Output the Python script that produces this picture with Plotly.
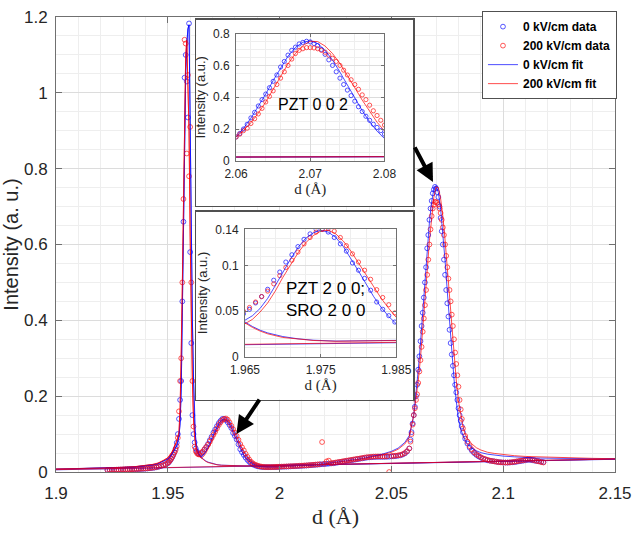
import plotly.graph_objects as go

# ---------------- data ----------------
# measured d-spacing grid (Angstrom)
d_data = [
    1.923, 1.924, 1.925, 1.926, 1.927, 1.928, 1.929, 1.930, 1.931, 1.932, 1.933, 1.934, 1.935, 1.936,
    1.937, 1.938, 1.939, 1.940, 1.941, 1.942, 1.943, 1.944, 1.945, 1.946, 1.947, 1.948, 1.949,
    1.9500, 1.9505, 1.9510, 1.9515, 1.9520, 1.9525, 1.9530, 1.9535, 1.9540, 1.9545, 1.9550, 1.9555,
    1.9560, 1.9565, 1.9570, 1.9575, 1.9580, 1.9585, 1.9590, 1.9595, 1.9600, 1.9605, 1.9610, 1.9615,
    1.9620, 1.9625, 1.9630, 1.9635, 1.9640,
    1.9648, 1.9656, 1.9664, 1.9672, 1.9680, 1.9688, 1.9696, 1.9704, 1.9712, 1.9720, 1.9728, 1.9736,
    1.9744, 1.9752, 1.9760, 1.9768, 1.9776, 1.9784, 1.9792, 1.9800, 1.9808, 1.9816, 1.9824, 1.9832,
    1.9840, 1.9848, 1.9856, 1.9864, 1.9872, 1.9880, 1.9888, 1.9896, 1.9904, 1.9912, 1.9920, 1.9928,
    1.9936, 1.9944, 1.9952, 1.9960, 1.9968, 1.9976, 1.9984, 1.9992,
    2.000, 2.001, 2.002, 2.003, 2.004, 2.005, 2.006, 2.007, 2.008, 2.009, 2.010, 2.011, 2.012, 2.013,
    2.014, 2.015, 2.016, 2.017, 2.018, 2.019, 2.020, 2.021, 2.022, 2.023, 2.024, 2.025, 2.026, 2.027,
    2.028, 2.029, 2.030, 2.031, 2.032, 2.033, 2.034, 2.035, 2.036, 2.037, 2.038, 2.039, 2.040, 2.041,
    2.042, 2.043, 2.044, 2.045, 2.046, 2.047, 2.048, 2.049, 2.050, 2.051, 2.052, 2.053, 2.054, 2.055,
    2.056, 2.057, 2.058,
    2.0585, 2.0590, 2.0595, 2.0600, 2.0605, 2.0610, 2.0615, 2.0620, 2.0625, 2.0630, 2.0635, 2.0640,
    2.0645, 2.0650, 2.0655, 2.0660, 2.0665, 2.0670, 2.0675, 2.0680, 2.0685, 2.0690, 2.0695, 2.0700,
    2.0705, 2.0710, 2.0715, 2.0720, 2.0725, 2.0730, 2.0735, 2.0740, 2.0745, 2.0750, 2.0755, 2.0760,
    2.0765, 2.0770, 2.0775, 2.0780, 2.0785, 2.0790, 2.0795, 2.0800, 2.0805, 2.0810, 2.0815,
    2.082, 2.083, 2.084, 2.085, 2.086, 2.087, 2.088, 2.089, 2.090, 2.091, 2.092, 2.093, 2.094, 2.095,
    2.096, 2.097, 2.098, 2.099, 2.100, 2.101, 2.102, 2.103, 2.104, 2.105, 2.106, 2.107, 2.108, 2.109,
    2.110, 2.111, 2.112, 2.113, 2.114, 2.115, 2.116, 2.117, 2.118,
]

data_0kV = [
    0.0050, 0.0050, 0.0052, 0.0054, 0.0055, 0.0057, 0.0058, 0.0060, 0.0062, 0.0064, 0.0066, 0.0068, 0.0070, 0.0073,
    0.0076, 0.0080, 0.0084, 0.0088, 0.0093, 0.0099, 0.0106, 0.0115, 0.0125, 0.0140, 0.0158, 0.0180, 0.0200,
    0.023, 0.026, 0.030, 0.034, 0.039, 0.045, 0.052, 0.062, 0.077, 0.100, 0.140, 0.190,
    0.240, 0.450, 0.660, 1.040, 1.100, 1.030, 0.935, 1.183, 0.580, 0.340, 0.150, 0.100,
    0.078, 0.062, 0.054, 0.050, 0.047,
    0.047, 0.052, 0.059, 0.066, 0.074, 0.084, 0.093, 0.104, 0.112, 0.121, 0.129, 0.135,
    0.140, 0.140, 0.137, 0.131, 0.124, 0.116, 0.103, 0.095, 0.086, 0.073, 0.060, 0.052,
    0.045, 0.038, 0.032, 0.027, 0.023, 0.020, 0.018, 0.016, 0.015, 0.014, 0.0135, 0.013,
    0.013, 0.0128, 0.0128, 0.0128, 0.013, 0.013, 0.013, 0.0132,
    0.0135, 0.0138, 0.0140, 0.0142, 0.0145, 0.0148, 0.0150, 0.0153, 0.0156, 0.0160, 0.0163, 0.0167, 0.0170, 0.0175,
    0.0180, 0.0185, 0.0190, 0.0195, 0.0200, 0.0205, 0.0210, 0.0215, 0.0220, 0.0225, 0.0230, 0.0240, 0.0250, 0.0260,
    0.0270, 0.0280, 0.0290, 0.0300, 0.0310, 0.0320, 0.0330, 0.0340, 0.0350, 0.0360, 0.0370, 0.0380, 0.0385, 0.0390,
    0.0395, 0.0398, 0.0400, 0.0400, 0.0400, 0.0400, 0.0402, 0.0405, 0.0410, 0.0415, 0.0420, 0.0430, 0.0440, 0.0460,
    0.0490, 0.0540, 0.0620,
    0.085, 0.105, 0.128, 0.150, 0.172, 0.200, 0.230, 0.270, 0.305, 0.345, 0.385, 0.420,
    0.460, 0.500, 0.540, 0.590, 0.625, 0.665, 0.695, 0.715, 0.735, 0.745, 0.752, 0.748,
    0.738, 0.725, 0.700, 0.670, 0.635, 0.600, 0.560, 0.520, 0.480, 0.445, 0.410, 0.375,
    0.340, 0.310, 0.280, 0.255, 0.230, 0.210, 0.190, 0.168, 0.150, 0.135, 0.120,
    0.105, 0.088, 0.075, 0.064, 0.056, 0.050, 0.045, 0.041, 0.038, 0.035, 0.033, 0.031, 0.030, 0.029,
    0.028, 0.027, 0.026, 0.0255, 0.025, 0.0248, 0.0248, 0.025, 0.0255, 0.026, 0.027, 0.028, 0.029, 0.030,
    0.031, 0.032, 0.032, 0.031, 0.030, 0.029, 0.028, 0.027, 0.026,
]

data_200kV = [
    0.0055, 0.0056, 0.0057, 0.0059, 0.0060, 0.0062, 0.0063, 0.0065, 0.0067, 0.0069, 0.0071, 0.0073, 0.0075, 0.0078,
    0.0081, 0.0085, 0.0089, 0.0093, 0.0098, 0.0104, 0.0111, 0.0120, 0.0130, 0.0145, 0.0163, 0.0185, 0.0210,
    0.024, 0.027, 0.031, 0.035, 0.040, 0.046, 0.052, 0.058, 0.068, 0.090, 0.160, 0.240,
    0.300, 0.500, 0.720, 1.140, 1.130, 0.840, 1.047, 0.780, 0.910, 0.500, 0.240, 0.120,
    0.067, 0.055, 0.050, 0.047, 0.046,
    0.050, 0.054, 0.060, 0.066, 0.072, 0.080, 0.089, 0.098, 0.106, 0.115, 0.124, 0.131,
    0.137, 0.140, 0.141, 0.138, 0.131, 0.122, 0.113, 0.104, 0.095, 0.085, 0.0736, 0.065,
    0.057, 0.048, 0.040, 0.033, 0.027, 0.023, 0.020, 0.018, 0.016, 0.015, 0.014, 0.0135,
    0.013, 0.013, 0.013, 0.013, 0.0132, 0.0133, 0.0135, 0.0137,
    0.0140, 0.0143, 0.0145, 0.0147, 0.0150, 0.0153, 0.0155, 0.0158, 0.0161, 0.0165, 0.0168, 0.0172, 0.0175, 0.0180,
    0.0185, 0.0190, 0.0195, 0.0200, 0.0205, 0.0790, 0.0215, 0.0280, 0.0300, 0.0230, 0.0240, 0.0250, 0.0260, 0.0270,
    0.0280, 0.0290, 0.0300, 0.0310, 0.0320, 0.0330, 0.0340, 0.0350, 0.0360, 0.0370, 0.0380, 0.0390, 0.0395, 0.0400,
    0.0405, 0.0408, 0.0410, 0.0410, 0.0410, 0.0410, 0.0412, 0.0000, 0.0420, 0.0425, 0.0430, 0.0440, 0.0450, 0.0470,
    0.0500, 0.0550, 0.0620,
    0.080, 0.100, 0.125, 0.150, 0.168, 0.190, 0.205, 0.235, 0.265, 0.295, 0.330, 0.370,
    0.405, 0.440, 0.480, 0.520, 0.560, 0.600, 0.640, 0.675, 0.695, 0.705, 0.712, 0.712,
    0.710, 0.705, 0.695, 0.683, 0.665, 0.645, 0.625, 0.600, 0.570, 0.540, 0.510, 0.480,
    0.450, 0.415, 0.385, 0.350, 0.315, 0.285, 0.255, 0.225, 0.190, 0.165, 0.140,
    0.115, 0.095, 0.080, 0.068, 0.059, 0.052, 0.047, 0.043, 0.039, 0.036, 0.034, 0.032, 0.030, 0.029,
    0.028, 0.027, 0.026, 0.0255, 0.025, 0.025, 0.025, 0.0255, 0.026, 0.027, 0.028, 0.029, 0.030, 0.031,
    0.032, 0.033, 0.033, 0.032, 0.031, 0.029, 0.028, 0.026, 0.025,
]

# total fit curves
fit_d = [
    1.900, 1.910, 1.920, 1.930, 1.935, 1.940, 1.943, 1.946, 1.948,
    1.950, 1.951, 1.952, 1.953, 1.954, 1.955,
    1.9555, 1.956, 1.9565, 1.957, 1.9575, 1.958, 1.9585, 1.959, 1.9595, 1.960, 1.9605, 1.961,
    1.9615, 1.962, 1.9625, 1.963,
    1.964, 1.965, 1.966, 1.967, 1.968, 1.969, 1.970, 1.971, 1.972, 1.973, 1.974, 1.975, 1.976,
    1.977, 1.978, 1.979, 1.980, 1.981, 1.982, 1.983, 1.984, 1.985, 1.986, 1.987, 1.988,
    1.990, 1.992, 1.995,
    2.000, 2.005, 2.010, 2.015, 2.020, 2.025, 2.030, 2.035, 2.040, 2.045, 2.050,
    2.053, 2.056, 2.058,
    2.060, 2.061, 2.062, 2.063, 2.064, 2.065, 2.066, 2.067, 2.068, 2.069, 2.070, 2.071, 2.072,
    2.073, 2.074, 2.075, 2.076, 2.077, 2.078, 2.079, 2.080, 2.081, 2.082, 2.083, 2.084,
    2.086, 2.088, 2.090, 2.093, 2.096,
    2.100, 2.105, 2.110, 2.115, 2.120,
    2.130, 2.140, 2.150,
]

fit_0kV = [
    0.0075, 0.0085, 0.0098, 0.0118, 0.0135, 0.0160, 0.0185, 0.0230, 0.0280,
    0.0350, 0.0410, 0.0490, 0.0600, 0.0700, 0.0950,
    0.130, 0.220, 0.420, 0.680, 0.880, 1.050, 1.130, 1.170, 1.180, 0.900, 0.600, 0.400,
    0.250, 0.120, 0.075, 0.056,
    0.045, 0.040, 0.045, 0.053, 0.064, 0.078, 0.093, 0.107, 0.120, 0.130, 0.136, 0.139, 0.137,
    0.131, 0.121, 0.108, 0.094, 0.080, 0.066, 0.054, 0.044, 0.036, 0.030, 0.025, 0.021,
    0.0165, 0.0145, 0.0135,
    0.0140, 0.0152, 0.0168, 0.0188, 0.0215, 0.0250, 0.0290, 0.0335, 0.0390, 0.0455, 0.0545,
    0.0630, 0.0780, 0.0960,
    0.150, 0.205, 0.268, 0.340, 0.420, 0.505, 0.585, 0.658, 0.713, 0.746, 0.755, 0.737, 0.695,
    0.634, 0.558, 0.476, 0.394, 0.316, 0.245, 0.187, 0.140, 0.112, 0.095, 0.083, 0.074,
    0.063, 0.056, 0.051, 0.047, 0.044,
    0.042, 0.040, 0.038, 0.037, 0.0365,
    0.0355, 0.0350, 0.0345,
]

fit_200kV = [
    0.0078, 0.0088, 0.0101, 0.0122, 0.0140, 0.0167, 0.0195, 0.0245, 0.0300,
    0.0380, 0.0450, 0.0540, 0.0670, 0.0820, 0.1050,
    0.170, 0.300, 0.490, 0.700, 0.920, 1.100, 1.140, 1.050, 0.900, 0.620, 0.400, 0.240,
    0.140, 0.090, 0.065, 0.052,
    0.042, 0.036, 0.041, 0.049, 0.059, 0.072, 0.087, 0.101, 0.114, 0.125, 0.133, 0.138, 0.139,
    0.135, 0.127, 0.116, 0.103, 0.090, 0.077, 0.064, 0.053, 0.043, 0.035, 0.029, 0.024,
    0.0180, 0.0150, 0.0138,
    0.0142, 0.0153, 0.0168, 0.0185, 0.0210, 0.0245, 0.0285, 0.0330, 0.0380, 0.0440, 0.0520,
    0.0600, 0.0740, 0.0920,
    0.150, 0.190, 0.240, 0.300, 0.370, 0.450, 0.530, 0.610, 0.675, 0.725, 0.752, 0.750, 0.722,
    0.675, 0.612, 0.539, 0.460, 0.382, 0.309, 0.243, 0.188, 0.150, 0.120, 0.100, 0.088,
    0.074, 0.064, 0.058, 0.052, 0.049,
    0.046, 0.043, 0.041, 0.040, 0.039,
    0.037, 0.036, 0.035,
]

# SRO 2 0 0 component (with background)
sro_d = [
    1.900, 1.920, 1.935, 1.945, 1.950, 1.952, 1.954, 1.955, 1.9555, 1.956, 1.9565, 1.957, 1.9575,
    1.958, 1.9585, 1.959, 1.9595, 1.960, 1.9605, 1.961, 1.9615, 1.962, 1.963, 1.964, 1.965, 1.966,
    1.967, 1.968, 1.970, 1.972, 1.974, 1.977, 1.980, 1.985, 1.990, 2.000, 2.050, 2.100, 2.150,
]
sro_0kV = [
    0.0075, 0.0097, 0.0133, 0.0205, 0.0340, 0.0480, 0.0690, 0.0930, 0.128, 0.218, 0.418, 0.678, 0.878,
    1.048, 1.128, 1.168, 1.178, 0.898, 0.598, 0.398, 0.248, 0.116, 0.064, 0.047, 0.038, 0.033,
    0.029, 0.026, 0.022, 0.0195, 0.018, 0.017, 0.0165, 0.016, 0.0163, 0.0173, 0.0229, 0.0285, 0.0341,
]
sro_200kV = [
    0.0078, 0.0100, 0.0138, 0.0215, 0.0370, 0.0530, 0.0810, 0.1030, 0.168, 0.298, 0.488, 0.698, 0.918,
    1.098, 1.138, 1.048, 0.898, 0.618, 0.398, 0.238, 0.138, 0.087, 0.058, 0.044, 0.037, 0.032,
    0.028, 0.025, 0.021, 0.019, 0.0177, 0.0168, 0.0163, 0.0159, 0.0162, 0.0172, 0.0229, 0.0286, 0.0343,
]

# linear background
bg_d = [1.900, 2.150]
bg_0kV = [0.0058, 0.0335]
bg_200kV = [0.0062, 0.0340]

# tick labels
main_xticks = [1.9, 1.95, 2.0, 2.05, 2.1, 2.15]
main_xtext = ["1.9", "1.95", "2", "2.05", "2.1", "2.15"]
main_yticks = [0, 0.2, 0.4, 0.6, 0.8, 1.0, 1.2]
main_ytext = ["0", "0.2", "0.4", "0.6", "0.8", "1", "1.2"]
in1_yticks = [0, 0.2, 0.4, 0.6, 0.8]
in1_ytext = ["0", "0.2", "0.4", "0.6", "0.8"]
in2_yticks = [0, 0.05, 0.1, 0.14]
in2_ytext = ["0", "0.05", "0.1", "0.14"]

legend_names = ["0 kV/cm data", "200 kV/cm data", "0 kV/cm fit", "200 kV/cm fit"]

# ---------------- styling ----------------
BLUE_M = "rgba(30,30,255,0.75)"
RED_M = "rgba(255,25,25,0.72)"
BLUE_L = "rgba(0,0,255,0.7)"
RED_L = "rgba(255,0,0,0.7)"
SANS = "Liberation Sans, Arial, sans-serif"
SERIF = "Liberation Serif, Times New Roman, serif"
TXT = "#262626"

fig = go.Figure()


def add_set(xa, ya, main):
    ms = 4.8 if main else 4.2
    fig.add_trace(go.Scatter(x=d_data, y=data_0kV, mode="markers", name=legend_names[0],
                             marker=dict(symbol="circle-open", size=ms, color=BLUE_M, line=dict(width=1)),
                             showlegend=main, xaxis=xa, yaxis=ya, hoverinfo="skip"))
    fig.add_trace(go.Scatter(x=d_data, y=data_200kV, mode="markers", name=legend_names[1],
                             marker=dict(symbol="circle-open", size=ms, color=RED_M, line=dict(width=1)),
                             showlegend=main, xaxis=xa, yaxis=ya, hoverinfo="skip"))
    fig.add_trace(go.Scatter(x=fit_d, y=fit_0kV, mode="lines", name=legend_names[2],
                             line=dict(color=BLUE_L, width=1), showlegend=main,
                             xaxis=xa, yaxis=ya, hoverinfo="skip"))
    fig.add_trace(go.Scatter(x=fit_d, y=fit_200kV, mode="lines", name=legend_names[3],
                             line=dict(color=RED_L, width=1), showlegend=main,
                             xaxis=xa, yaxis=ya, hoverinfo="skip"))
    for yy, c in ((sro_0kV, BLUE_L), (sro_200kV, RED_L)):
        fig.add_trace(go.Scatter(x=sro_d, y=yy, mode="lines", line=dict(color=c, width=1),
                                 showlegend=False, xaxis=xa, yaxis=ya, hoverinfo="skip"))
    for yy, c in ((bg_0kV, BLUE_L), (bg_200kV, RED_L)):
        fig.add_trace(go.Scatter(x=bg_d, y=yy, mode="lines", line=dict(color=c, width=1),
                                 showlegend=False, xaxis=xa, yaxis=ya, hoverinfo="skip"))


add_set("x", "y", True)
# frame subplots for the insets (empty)
fig.add_trace(go.Scatter(x=[None], y=[None], xaxis="x2", yaxis="y2", showlegend=False, hoverinfo="skip"))
add_set("x3", "y3", False)
fig.add_trace(go.Scatter(x=[None], y=[None], xaxis="x4", yaxis="y4", showlegend=False, hoverinfo="skip"))
add_set("x5", "y5", False)

W, H = 640, 533
ML, MR, MT, MB = 56, 19, 8, 60
PW, PH = W - ML - MR, H - MT - MB


def fx(px):
    return (px - ML) / PW


def fy(py):
    return (H - MB - py) / PH


AX = "#707070"
GRID = "#dcdcdc"
MINOR = "#eeeeee"

common = dict(showline=True, linecolor=AX, linewidth=1, mirror="ticks", ticks="inside",
              tickcolor=AX, zeroline=False, showgrid=True, gridcolor=GRID, gridwidth=1)

frame = dict(showline=True, linecolor="#505050", linewidth=1.5, mirror=True, ticks="",
             showticklabels=False, showgrid=False, zeroline=False, range=[0, 1], fixedrange=True)

IN_TICK = dict(size=12, family=SANS, color=TXT)

fig.update_layout(
    width=W, height=H, autosize=False,
    margin=dict(l=ML, r=MR, t=MT, b=MB),
    paper_bgcolor="white", plot_bgcolor="white",
    font=dict(family=SANS, color=TXT),
    showlegend=True,
    legend=dict(x=fx(623), y=fy(2), xanchor="right", yanchor="top", bgcolor="white",
                bordercolor="#505050", borderwidth=1,
                font=dict(size=12, family=SANS, color="black", weight="bold"),
                tracegroupgap=0, itemwidth=30),
    xaxis=dict(domain=[0, 1], range=[1.9, 2.15], tickvals=main_xticks, ticktext=main_xtext,
               ticklen=6, tickfont=dict(size=17, family=SANS, color=TXT), ticklabelstandoff=6,
               minor=dict(tick0=1.9, dtick=0.01, showgrid=True, gridcolor=MINOR, ticks=""),
               title=dict(text="d (Å)", font=dict(family=SERIF, size=22, color=TXT), standoff=6),
               anchor="y", **common),
    yaxis=dict(domain=[0, 1], range=[0, 1.2], tickvals=main_yticks, ticktext=main_ytext,
               ticklen=6, tickfont=dict(size=17, family=SANS, color=TXT), ticklabelstandoff=4,
               minor=dict(tick0=0, dtick=0.05, showgrid=True, gridcolor=MINOR, ticks=""),
               title=dict(text="Intensity (a. u.)", font=dict(size=20, family=SANS, color=TXT), standoff=2),
               anchor="x", **common),
    xaxis2=dict(domain=[fx(198), fx(417)], anchor="y2", **frame),
    yaxis2=dict(domain=[fy(201), fy(11)], anchor="x2", **frame),
    xaxis3=dict(domain=[fx(238), fx(388)], range=[2.06, 2.08], tick0=2.06, dtick=0.01,
                ticklen=3, tickfont=IN_TICK, ticklabelstandoff=2,
                minor=dict(tick0=2.06, dtick=0.002, showgrid=True, gridcolor=MINOR, ticks=""),
                title=dict(text="d (Å)", font=dict(family=SERIF, size=15, color=TXT), standoff=1),
                anchor="y3", **common),
    yaxis3=dict(domain=[fy(155), fy(25)], range=[0, 0.8], tickvals=in1_yticks, ticktext=in1_ytext,
                ticklen=3, tickfont=IN_TICK, ticklabelstandoff=3,
                minor=dict(tick0=0, dtick=0.05, showgrid=True, gridcolor=MINOR, ticks=""),
                title=dict(text="Intensity (a.u.)", font=dict(size=13, family=SANS, color=TXT), standoff=4),
                anchor="x3", **common),
    xaxis4=dict(domain=[fx(198), fx(417)], anchor="y4", **frame),
    yaxis4=dict(domain=[fy(399), fy(207)], anchor="x4", **frame),
    xaxis5=dict(domain=[fx(247), fx(400)], range=[1.965, 1.985], tick0=1.965, dtick=0.01,
                ticklen=3, tickfont=IN_TICK, ticklabelstandoff=2,
                minor=dict(tick0=1.965, dtick=0.002, showgrid=True, gridcolor=MINOR, ticks=""),
                title=dict(text="d (Å)", font=dict(family=SERIF, size=15, color=TXT), standoff=1),
                anchor="y5", **common),
    yaxis5=dict(domain=[fy(355), fy(225)], range=[0, 0.14], tickvals=in2_yticks, ticktext=in2_ytext,
                ticklen=3, tickfont=IN_TICK, ticklabelstandoff=3,
                minor=dict(tick0=0, dtick=0.01, showgrid=True, gridcolor=MINOR, ticks=""),
                title=dict(text="Intensity (a.u.)", font=dict(size=13, family=SANS, color=TXT), standoff=4),
                anchor="x5", **common),
    annotations=[
        dict(text="PZT 0 0 2", xref="x3", yref="y3", x=2.0704, y=0.355, showarrow=False,
             font=dict(size=16, family=SANS, color="black")),
        dict(text="PZT 2 0 0;<br>SRO 2 0 0", xref="x5", yref="y5", x=1.9702, y=0.063,
             xanchor="left", yanchor="middle", align="left", showarrow=False,
             font=dict(size=17, family=SANS, color="black")),
        dict(text="", xref="x", yref="y", x=2.0686, y=0.765, ax=-19, ay=-36,
             showarrow=True, arrowhead=2, arrowsize=0.9, arrowwidth=4, arrowcolor="black", standoff=0),
        dict(text="", xref="x", yref="y", x=1.9807, y=0.100, ax=24, ay=-36,
             showarrow=True, arrowhead=2, arrowsize=0.9, arrowwidth=4, arrowcolor="black", standoff=0),
    ],
)

fig.write_html("out.html", config={"displayModeBar": False, "staticPlot": True},
               post_script="document.body.style.margin='0';document.body.style.overflow='hidden';")
